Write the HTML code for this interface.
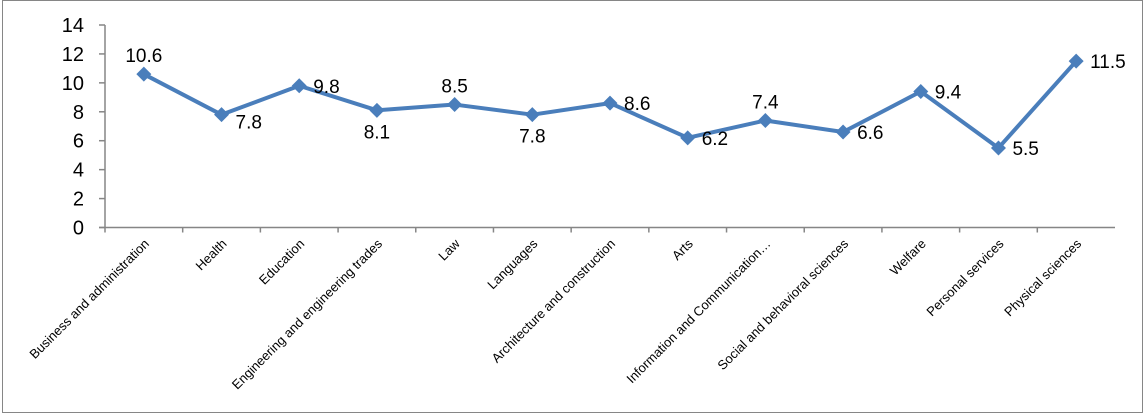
<!DOCTYPE html>
<html><head><meta charset="utf-8"><style>
body{margin:0;background:#fff}
svg{display:block;font-family:"Liberation Sans",Arial,sans-serif}
</style></head><body>
<svg id="chart" width="1145" height="415">
<rect x="2.5" y="0.5" width="1140" height="412" fill="#fff" stroke="#868686"/>
<g id="axes"></g><g id="series"></g>
</svg>
<script>
const categories=["Business and administration","Health","Education","Engineering and engineering trades","Law","Languages","Architecture and construction","Arts","Information and Communication…","Social and behavioral sciences","Welfare","Personal services","Physical sciences"];
const values=[10.6,7.8,9.8,8.1,8.5,7.8,8.6,6.2,7.4,6.6,9.4,5.5,11.5];
const yTicks=[0,2,4,6,8,10,12,14];
const labelPos=["above","right","right","below","above","below","right","right","above","right","right","right","right"];
const NS="http://www.w3.org/2000/svg";
const L=105,R=1115,T=25,B=227.5,YMAX=14;
const step=(R-L)/categories.length;
const x=i=>L+step*(i+0.5);
const y=v=>B-(v/YMAX)*(B-T);
function mk(tag,attrs,parent,text){const e=document.createElementNS(NS,tag);for(const k in attrs)e.setAttribute(k,attrs[k]);if(text!==undefined)e.textContent=text;parent.appendChild(e);return e;}
const ax=document.getElementById('axes'),se=document.getElementById('series');
let e=mk('line',{x1:L,y1:T,x2:L,y2:B,stroke:'#868686','stroke-width':1.5},ax);


e=mk('line',{x1:L-6,y1:B,x2:R,y2:B,stroke:'#868686','stroke-width':1.5},ax);


yTicks.forEach(t=>{
 mk('line',{x1:L-6,y1:y(t),x2:L,y2:y(t),stroke:'#868686','stroke-width':1.5},ax);
 const tx=mk('text',{x:L-21,y:y(t)+7,'text-anchor':'end','font-size':20,fill:'#000'},ax,t);
 
 
});
categories.forEach((c,i)=>{
 mk('line',{x1:L+step*i,y1:B,x2:L+step*i,y2:B+5,stroke:'#868686','stroke-width':1.5},ax);
 const cx=x(i)+6,cy=B+17;
 const tx=mk('text',{x:cx,y:cy,'text-anchor':'end','font-size':13,fill:'#000',transform:`rotate(-45 ${cx} ${cy})`},ax,c);
 
 
});
const pts=values.map((v,i)=>x(i)+','+y(v)).join(' ');
const line=mk('polyline',{points:pts,fill:'none',stroke:'#4a7ebb','stroke-width':4,'stroke-linejoin':'round'},se);


values.forEach((v,i)=>{
 const px=x(i),py=y(v),s=7.5;
 const m=mk('polygon',{points:`${px},${py-s} ${px+s},${py} ${px},${py+s} ${px-s},${py}`,fill:'#4a7ebb'},se);
 
 
 let lx=px,ly=py,anc='middle';
 if(labelPos[i]==='above'){ly=py-12;}
 else if(labelPos[i]==='below'){ly=py+28;}
 else {lx=px+14;ly=py+7;anc='start';if(i===1)ly=py+14;}
 const t=mk('text',{x:lx,y:ly,'text-anchor':anc,'font-size':19,fill:'#000'},se,v.toFixed(1));
 
 
});
</script>
</body></html>
